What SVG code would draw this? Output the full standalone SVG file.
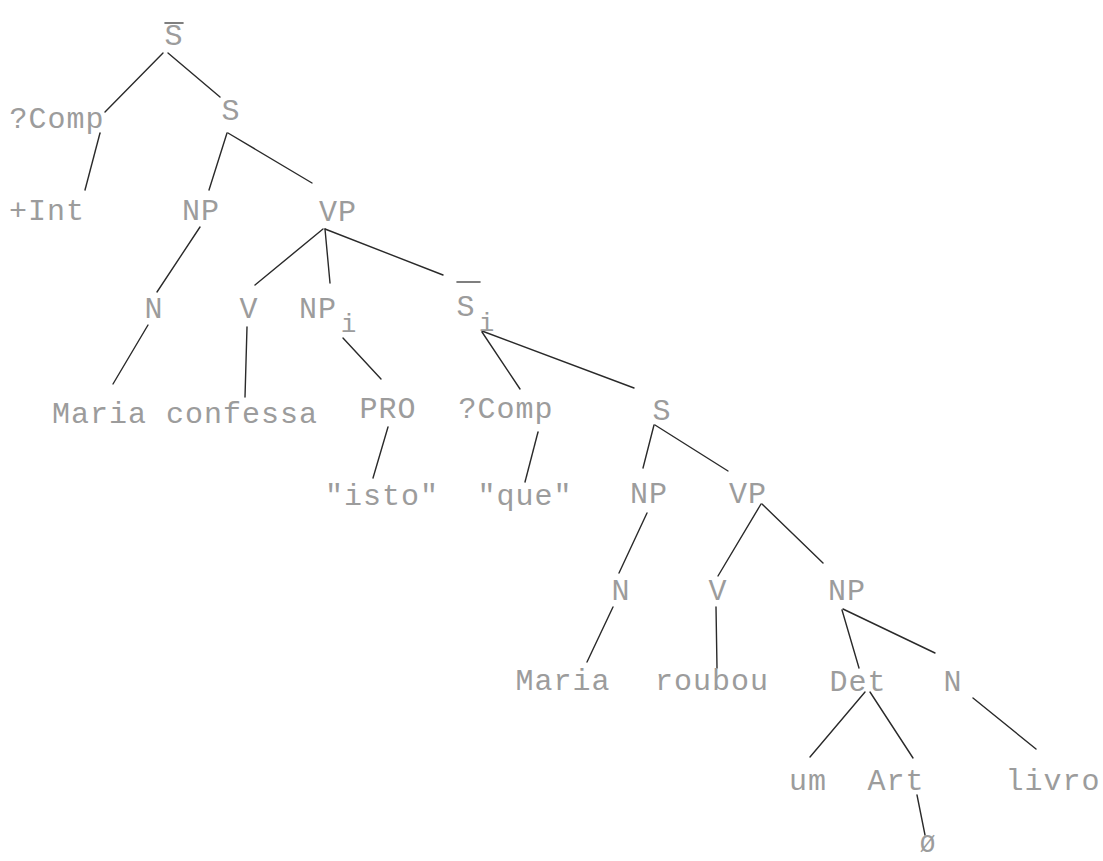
<svg xmlns="http://www.w3.org/2000/svg" width="1103" height="861" viewBox="0 0 1103 861">
<style>
text{font-family:"Liberation Mono","DejaVu Sans Mono",monospace;font-size:30px;fill:#9c9c9c;text-anchor:middle;letter-spacing:1px}
text.sub{font-size:26px}
line{stroke:#2a2a2a;stroke-width:1.4;stroke-linecap:round}
.bar{stroke:#555;stroke-width:1.6}
</style>
<rect width="1103" height="861" fill="#ffffff"/>
<g id="connectors">
<line x1="163" y1="53" x2="105" y2="112"/>
<line x1="168" y1="53" x2="220" y2="97"/>
<line x1="100" y1="133" x2="85" y2="190"/>
<line x1="227" y1="133" x2="209" y2="190"/>
<line x1="228" y1="133" x2="312" y2="183"/>
<line x1="200" y1="227" x2="157" y2="292"/>
<line x1="148" y1="325" x2="113" y2="384"/>
<line x1="323" y1="229" x2="255" y2="285"/>
<line x1="325" y1="229" x2="330" y2="283"/>
<line x1="325" y1="229" x2="443" y2="275"/>
<line x1="247" y1="327" x2="245" y2="397"/>
<line x1="343" y1="338" x2="381" y2="379"/>
<line x1="482" y1="332" x2="520" y2="389"/>
<line x1="482" y1="331" x2="634" y2="388"/>
<line x1="388" y1="427" x2="373" y2="478"/>
<line x1="538" y1="432" x2="525" y2="482"/>
<line x1="654" y1="425" x2="643" y2="468"/>
<line x1="655" y1="425" x2="728" y2="471"/>
<line x1="647" y1="513" x2="619" y2="573"/>
<line x1="761" y1="504" x2="718" y2="576"/>
<line x1="762" y1="504" x2="823" y2="563"/>
<line x1="613" y1="607" x2="587" y2="662"/>
<line x1="716" y1="607" x2="717" y2="668"/>
<line x1="842" y1="610" x2="859" y2="668"/>
<line x1="843" y1="609" x2="935" y2="653"/>
<line x1="865" y1="692" x2="810" y2="757"/>
<line x1="870" y1="692" x2="913" y2="758"/>
<line x1="973" y1="698" x2="1036" y2="749"/>
<line x1="917" y1="795" x2="925" y2="835"/>
</g>
<g id="n-sbar-top"><line class="bar" x1="165" y1="23" x2="183" y2="23"/><text x="174" y="45">S</text></g>
<g id="n-comp1"><text x="57" y="128">?Comp</text></g>
<g id="n-s1"><text x="231" y="120">S</text></g>
<g id="n-int"><text x="47" y="220">+Int</text></g>
<g id="n-np1"><text x="201" y="220">NP</text></g>
<g id="n-vp1"><text x="338" y="221">VP</text></g>
<g id="n-n1"><text x="154" y="318">N</text></g>
<g id="n-v1"><text x="249" y="318">V</text></g>
<g id="n-npi"><text x="318" y="318">NP</text><text class="sub" x="349" y="332">i</text></g>
<g id="n-sbari"><line class="bar" x1="457" y1="282" x2="480" y2="282"/><text x="466" y="316">S</text><text class="sub" x="487" y="331">i</text></g>
<g id="n-maria1"><text x="185" y="423">Maria confessa</text></g>
<g id="n-pro"><text x="388" y="418">PRO</text></g>
<g id="n-comp2"><text x="506" y="418">?Comp</text></g>
<g id="n-isto"><text x="382" y="505">"isto"</text></g>
<g id="n-que"><text x="525" y="505">"que"</text></g>
<g id="n-s2"><text x="662" y="420">S</text></g>
<g id="n-np2"><text x="649" y="503">NP</text></g>
<g id="n-vp2"><text x="748" y="503">VP</text></g>
<g id="n-n2"><text x="621" y="600">N</text></g>
<g id="n-v2"><text x="718" y="600">V</text></g>
<g id="n-np3"><text x="847" y="600">NP</text></g>
<g id="n-maria2"><text x="563" y="690">Maria</text></g>
<g id="n-roubou"><text x="712" y="690">roubou</text></g>
<g id="n-det"><text x="858" y="691">Det</text></g>
<g id="n-n3"><text x="953" y="691">N</text></g>
<g id="n-um"><text x="808" y="790">um</text></g>
<g id="n-art"><text x="896" y="790">Art</text></g>
<g id="n-livro"><text x="1053" y="790">livro</text></g>
<g id="n-null"><text class="sub" x="928" y="852">Ø</text></g>
</svg>
